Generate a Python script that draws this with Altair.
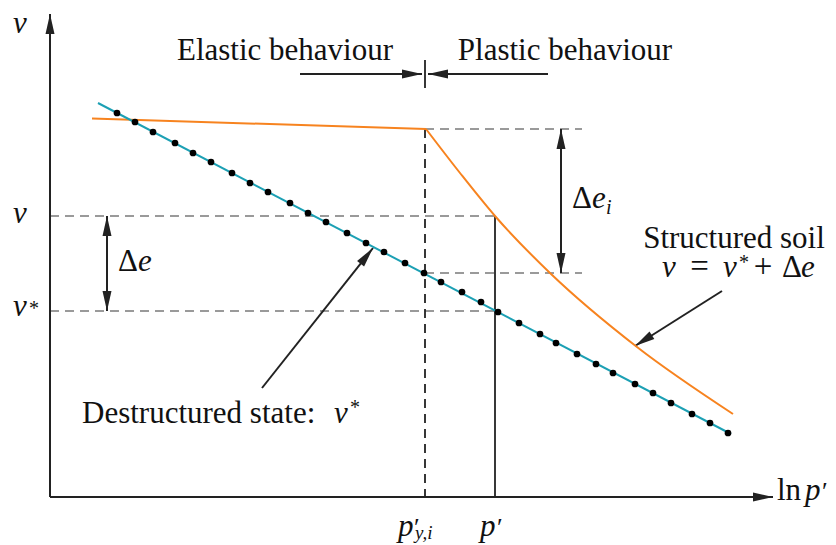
import math
import altair as alt
import pandas as pd

# ---------------- data (diagram units: x = ln p', y = v) ----------------
dest_x = [67, 85, 103, 125, 143, 161, 182, 200, 218, 240, 258, 276, 297, 316, 334, 355, 374,
          391, 412, 431, 448, 469, 490, 506, 527, 546, 563, 585, 603, 621, 642, 660, 678]
dest_y = [384, 375, 365, 354, 344, 335, 324, 314, 305, 294, 284, 275, 264, 254, 245, 234, 224,
          215, 205, 195, 185, 174, 163, 154, 143, 133, 124, 113, 104, 94, 83, 74, 64]
dest_line_x = [48, 681]
dest_line_y = [394, 63]
# structured soil: elastic branch then plastic branch
elastic_x = [42, 376]
elastic_y = [378.5, 368]
plastic_x = [376, 410, 445, 500, 587, 683]
plastic_y = [368, 324, 281, 224, 150, 83]

p_yi, p_cur = 375, 445
v_yi, v_cur, v_star, v_star_yi = 368, 281, 186, 224
x_axis_end, y_axis_end = 723, 483
dash_right = 532

# guide segments (x, y, x2, y2)
gray_dashed = [(p_yi, v_yi, dash_right, v_yi), (0, v_cur, p_cur, v_cur),
               (0, v_star, p_cur, v_star), (p_yi, v_star_yi, dash_right, v_star_yi)]
black_dashed = [(p_yi, v_yi, p_yi, 0)]
solid_segs = [(p_cur, v_cur, p_cur, 0), (p_yi, 409, p_yi, 437)]

# arrows: (from_x, from_y, to_x, to_y, double_headed)
arrows = [
    (0, 0, 0, y_axis_end, False),
    (0, 0, x_axis_end, 0, False),
    (250, 423, 372, 423, False),
    (498, 423, 378, 423, False),
    (212, 109, 323, 249, False),
    (672, 206, 585, 151, False),
    (57, v_cur, 57, v_star, True),
    (511, v_yi, 511, v_star_yi, True),
]

# labels: (x, y, text, italic, size, align)
labels = [
    (235, 437, "Elastic behaviour", False, 31, "center"),
    (515, 437, "Plastic behaviour", False, 31, "center"),
    (684, 249, "Structured soil", False, 31, "center"),
    (32, 74, "Destructured state:", False, 31, "left"),
    (284, 74, "v", True, 31, "left"),
    (300, 83, "*", False, 20, "left"),
    (649.5, 220, "=", False, 33, "center"),
    (612, 220, "v", True, 31, "left"),
    (673, 220, "v", True, 31, "left"),
    (689, 228, "*", False, 20, "left"),
    (713, 220, "+", False, 33, "center"),
    (732, 220, "Δ", False, 31, "left"),
    (751, 220, "e", True, 31, "left"),
    (-37, 464, "v", True, 31, "left"),
    (-37, 274, "v", True, 31, "left"),
    (-37, 181, "v", True, 31, "left"),
    (-21, 182, "*", False, 20, "left"),
    (68, 226, "Δ", False, 31, "left"),
    (88, 226, "e", True, 31, "left"),
    (522, 289, "Δ", False, 31, "left"),
    (542, 289, "e", True, 31, "left"),
    (556, 283, "i", True, 20, "left"),
    (727, -3, "ln", False, 31, "left"),
    (755, -3, "p", True, 31, "left"),
    (772, -3, "′", False, 26, "left"),
    (348, -39, "p", True, 31, "left"),
    (364, -39, "′", False, 26, "left"),
    (365, -42, "y,i", True, 19, "left"),
    (430, -39, "p", True, 31, "left"),
    (447, -39, "′", False, 26, "left"),
]

# ---------------- styling ----------------
TEAL = "#1ca0b4"
ORANGE = "#f7831f"
DARK = "#222222"
GRAY = "#7a7a7a"
FONT = "Liberation Serif"

xs = alt.Scale(domain=[-42, 778], nice=False, zero=False)
ys = alt.Scale(domain=[-48, 489], nice=False, zero=False)


def X(f="x"):
    return alt.X(f + ":Q", scale=xs, axis=None)


def Y(f="y"):
    return alt.Y(f + ":Q", scale=ys, axis=None)


def seg_layer(segs, color, width, dash=None):
    df = pd.DataFrame(segs, columns=["x", "y", "x2", "y2"])
    kw = dict(color=color, strokeWidth=width)
    if dash:
        kw["strokeDash"] = dash
    return alt.Chart(df).mark_rule(**kw).encode(x=X(), y=Y(), x2="x2:Q", y2="y2:Q")


layers = []
layers.append(seg_layer(gray_dashed, GRAY, 1.5, [9, 6]))
layers.append(seg_layer(black_dashed, DARK, 1.8, [9, 6]))
layers.append(seg_layer(solid_segs, DARK, 1.8))

# arrow shafts and heads
shafts = [(a[0], a[1], a[2], a[3]) for a in arrows]
layers.append(seg_layer(shafts, DARK, 2))
heads = []
for fx, fy, tx, ty, dbl in arrows:
    ang = math.degrees(math.atan2(tx - fx, ty - fy)) % 360
    heads.append((tx, ty, ang))
    if dbl:
        heads.append((fx, fy, (ang + 180) % 360))
heads_df = pd.DataFrame(heads, columns=["x", "y", "angle"])
layers.append(
    alt.Chart(heads_df)
    .mark_point(shape="M0,0L0.45,2L-0.45,2Z", filled=True, color=DARK, opacity=1, size=400)
    .encode(x=X(), y=Y(), angle=alt.Angle("angle:Q", scale=None))
)

# curves
el_df = pd.DataFrame({"x": elastic_x, "y": elastic_y})
layers.append(alt.Chart(el_df).mark_line(color=ORANGE, strokeWidth=2).encode(x=X(), y=Y()))
pl_df = pd.DataFrame({"x": plastic_x, "y": plastic_y})
layers.append(
    alt.Chart(pl_df).mark_line(color=ORANGE, strokeWidth=2, interpolate="monotone").encode(x=X(), y=Y())
)
dline_df = pd.DataFrame({"x": dest_line_x, "y": dest_line_y})
layers.append(alt.Chart(dline_df).mark_line(color=TEAL, strokeWidth=2).encode(x=X(), y=Y()))
dots_df = pd.DataFrame({"x": dest_x, "y": dest_y})
layers.append(
    alt.Chart(dots_df).mark_circle(color="#000000", opacity=1, size=45).encode(x=X(), y=Y())
)

# text
lab_df = pd.DataFrame(labels, columns=["x", "y", "text", "italic", "size", "align"])
for (ital, align), sub in lab_df.groupby(["italic", "align"]):
    layers.append(
        alt.Chart(sub.drop(columns=["italic", "align"]))
        .mark_text(font=FONT, fontStyle="italic" if ital else "normal", align=align,
                   baseline="alphabetic", color="#111111")
        .encode(x=X(), y=Y(), text="text:N", size=alt.Size("size:Q", scale=None))
    )

chart = (
    alt.layer(*layers)
    .properties(width=820, height=537, padding=0, autosize="none", background="white")
    .configure_view(stroke=None)
)

chart.save("out.html", embed_options={"renderer": "svg", "actions": False})
